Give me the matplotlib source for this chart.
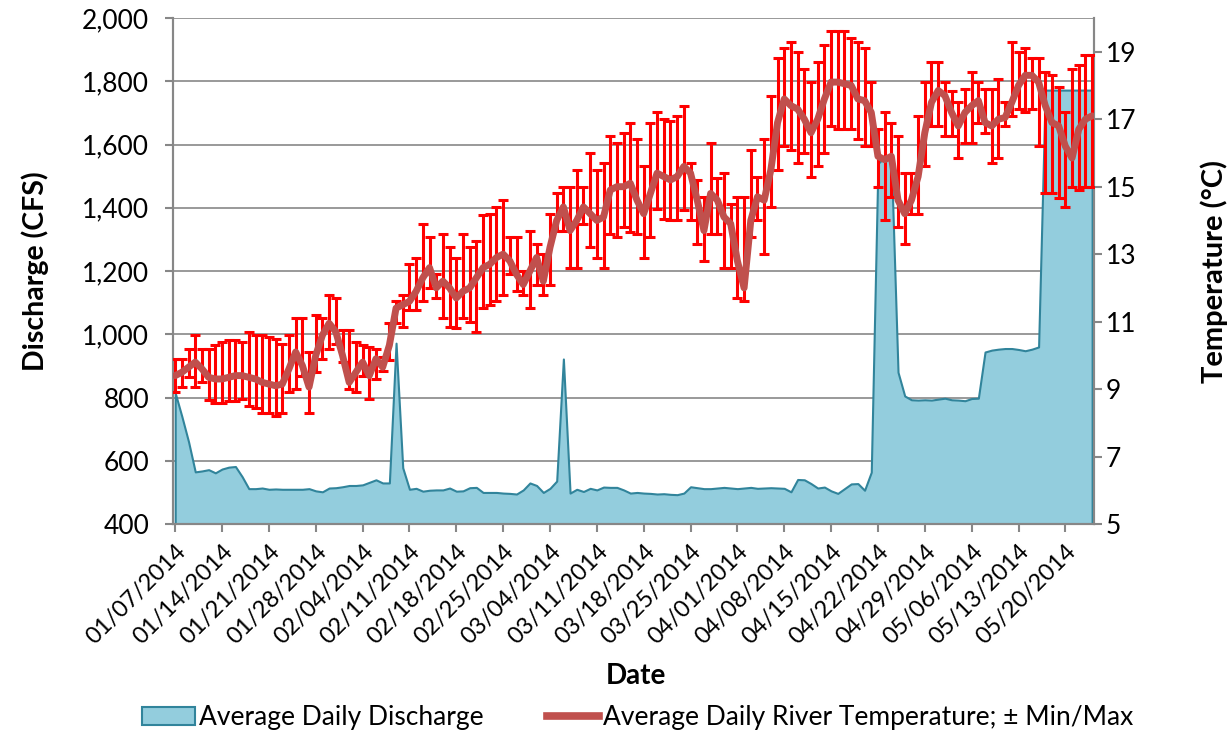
import matplotlib
matplotlib.use("Agg")
from matplotlib import pyplot as plt
from matplotlib.patches import Patch
from matplotlib.lines import Line2D
import matplotlib.dates as mdates
import pandas as pd

plt.rcParams['font.family'] = ['Lato', 'DejaVu Sans']

# daily dates, 01/07/2014 .. 05/24/2014
dates = pd.date_range('2014-01-07', '2014-05-24', freq='D')

# average daily discharge (CFS)
discharge = [
    815, 740, 660, 565, 568, 572, 562, 574, 580, 582,
    550, 512, 512, 514, 510, 511, 510, 510, 510, 510,
    512, 505, 502, 514, 515, 518, 522, 522, 524, 532,
    540, 530, 530, 972, 578, 510, 513, 504, 507, 508,
    508, 514, 504, 505, 515, 516, 500, 500, 500, 498,
    497, 495, 508, 530, 522, 500, 513, 536, 922, 498,
    510, 503, 513, 508, 517, 516, 516, 508, 498, 500,
    498, 497, 495, 496, 494, 493, 498, 518, 515, 512,
    512, 514, 516, 514, 512, 514, 516, 513, 514, 515,
    514, 513, 502, 541, 540, 528, 514, 517, 505, 497,
    512, 527, 528, 507, 564, 1540, 1560, 1550, 880, 805,
    793, 792, 793, 792, 795, 798, 793, 792, 790, 797,
    798, 944, 950, 953, 955, 955, 952, 948, 953, 960,
    1772, 1772, 1772, 1772, 1772, 1772, 1772, 1772,
]

# average daily river temperature (C)
temp_mean = [
    9.4, 9.5, 9.65, 9.8, 9.6, 9.35, 9.3, 9.3, 9.35, 9.4,
    9.4, 9.35, 9.3, 9.2, 9.15, 9.1, 9.15, 9.6, 10.1, 9.7,
    9.06, 10.0, 10.6, 10.95, 10.7, 10.0, 9.2, 9.5, 9.8, 9.4,
    9.9, 9.65, 10.3, 11.4, 11.5, 11.6, 11.9, 12.3, 12.6, 12.0,
    12.2, 12.0, 11.7, 11.9, 12.0, 12.3, 12.6, 12.7, 12.9, 13.0,
    12.8, 12.4, 12.1, 12.5, 12.9, 12.2, 13.2, 14.0, 14.4, 13.7,
    14.0, 14.4, 14.2, 14.0, 14.1, 14.9, 15.0, 15.0, 15.1, 14.6,
    14.2, 14.8, 15.4, 15.3, 15.2, 15.3, 15.6, 15.4, 14.6, 13.7,
    14.8, 14.6, 14.1, 13.9, 12.8, 12.0, 14.0, 14.7, 14.6, 15.5,
    16.9, 17.6, 17.4, 17.3, 17.0, 16.6, 17.0, 17.6, 18.1, 18.1,
    18.05, 18.0, 17.6, 17.55, 17.2, 15.9, 15.8, 15.9, 14.6, 14.2,
    14.6, 15.3, 16.6, 17.5, 17.85, 17.7, 17.2, 16.8, 17.2, 17.4,
    17.55, 16.9, 16.8, 17.0, 17.05, 17.5, 18.0, 18.3, 18.3, 18.1,
    17.4, 16.9, 16.8, 16.2, 15.85, 16.7, 17.0, 17.1,
]

temp_max = [
    9.9, 9.9, 10.2, 10.6, 10.2, 10.2, 10.3, 10.4, 10.45, 10.45,
    10.4, 10.7, 10.6, 10.6, 10.55, 10.5, 10.35, 10.6, 11.1, 11.1,
    10.1, 11.2, 11.1, 11.8, 11.7, 10.75, 10.75, 10.4, 10.3, 10.25,
    10.2, 9.95, 10.95, 11.6, 11.8, 12.7, 12.9, 13.9, 13.5, 12.4,
    13.6, 13.2, 12.9, 13.6, 13.2, 13.4, 14.15, 14.2, 14.4, 14.6,
    13.5, 13.5, 12.5, 13.7, 13.3, 13.0, 14.2, 14.8, 15.0, 15.0,
    15.5, 15.0, 16.0, 15.5, 15.7, 16.5, 16.3, 16.6, 16.9, 16.4,
    15.6, 16.9, 17.2, 17.0, 16.95, 17.1, 17.4, 15.7, 15.2, 14.7,
    16.3, 15.25, 15.4, 14.5, 14.7, 14.7, 16.1, 15.3, 16.4, 17.7,
    18.8, 19.1, 19.3, 19.0, 18.5, 18.1, 18.7, 19.2, 19.6, 19.6,
    19.6, 19.4, 19.3, 19.1, 18.1, 16.7, 17.2, 16.9, 16.5, 15.4,
    15.4, 17.1, 18.1, 18.7, 18.7, 18.1, 17.85, 17.5, 17.9, 18.4,
    18.1, 17.9, 17.9, 18.2, 17.5, 19.3, 19.0, 19.1, 18.8, 18.8,
    18.4, 18.3, 17.95, 17.2, 18.5, 18.6, 18.9, 18.9,
]

temp_min = [
    8.9, 9.06, 9.35, 9.06, 9.2, 8.67, 8.6, 8.6, 8.65, 8.65,
    8.7, 8.5, 8.45, 8.3, 8.3, 8.2, 8.3, 8.9, 9.0, 9.4,
    8.3, 9.5, 9.9, 10.2, 10.35, 9.8, 9.0, 8.9, 9.4, 8.7,
    9.3, 9.55, 9.85, 10.95, 10.85, 11.35, 11.35, 11.6, 12.0, 11.7,
    11.1, 10.85, 10.8, 11.1, 11.0, 10.7, 11.4, 11.5, 11.6, 11.8,
    12.4, 11.9, 11.8, 11.4, 12.1, 11.8, 12.1, 13.7, 13.7, 12.6,
    12.6, 13.9, 13.2, 12.9, 12.6, 13.6, 13.5, 13.8, 13.65, 13.6,
    12.9, 13.5, 14.35, 14.05, 14.0, 14.0, 14.3, 14.0, 13.3, 12.8,
    13.6, 13.6, 12.6, 12.6, 11.7, 11.6, 13.5, 14.0, 13.0, 14.4,
    15.5, 16.2, 16.1, 15.7, 16.0, 15.3, 15.6, 16.0, 16.8, 16.7,
    16.7, 16.7, 16.4, 16.2, 16.2, 15.0, 14.0, 14.7, 13.8, 13.3,
    14.2, 14.2, 15.6, 16.8, 16.8, 16.5, 16.5, 15.85, 16.3, 16.3,
    16.9, 16.6, 15.7, 15.85, 16.8, 17.1, 17.3, 17.2, 17.3, 16.2,
    14.8, 14.8, 14.65, 14.4, 15.0, 14.9, 15.0, 15.0,
]

# weekly tick dates
tick_dates = pd.date_range('2014-01-07', '2014-05-20', freq='7D')

fill_color = '#93CDDD'
edge_color = '#31849B'
line_color = '#C0504D'
grid_color = '#878787'

fig = plt.figure(figsize=(12.31, 7.34), dpi=100)
ax = fig.add_axes([0.1405, 0.286, 0.7485, 0.6895])
ax2 = ax.twinx()

# discharge area
ax.fill_between(dates, 400, discharge, facecolor=fill_color, edgecolor=edge_color,
                linewidth=1.5, zorder=2)
ax.set_ylim(400, 2000)
ax.set_yticks(range(400, 2001, 200))
ax.yaxis.set_major_formatter(matplotlib.ticker.FuncFormatter(lambda v, p: '{:,.0f}'.format(v)))
ax.grid(axis='y', color=grid_color, linewidth=1.2, zorder=0)
ax.set_axisbelow(True)

# temperature with min/max bars
lower = [m - lo for m, lo in zip(temp_mean, temp_min)]
upper = [hi - m for m, hi in zip(temp_mean, temp_max)]
ax2.errorbar(dates, temp_mean, yerr=[lower, upper], fmt='none', ecolor='#FF0000',
             elinewidth=2.2, capsize=3.4, capthick=2.2, zorder=3)
ax2.plot(dates, temp_mean, color=line_color, linewidth=5, solid_capstyle='round',
         solid_joinstyle='round', zorder=4)
ax2.set_ylim(5, 20)
ax2.set_yticks(range(5, 20, 2))

ax.set_xlim(dates[0] - pd.Timedelta(hours=8), dates[-1] + pd.Timedelta(hours=8))
ax.set_xticks(tick_dates)
ax.xaxis.set_major_formatter(mdates.DateFormatter('%m/%d/%Y'))

for a in (ax, ax2):
    for s in a.spines.values():
        s.set_color(grid_color)
        s.set_linewidth(1.5)
    a.spines['top'].set_visible(False)
    a.tick_params(colors=grid_color, labelcolor='black', labelsize=19, width=1.5, length=6)
ax.tick_params(axis='x', labelsize=17, pad=6)
ax.tick_params(axis='y', pad=11)
ax2.tick_params(axis='y', pad=2)
for lbl in ax.get_xticklabels():
    lbl.set_rotation(45)
    lbl.set_ha('right')
    lbl.set_rotation_mode('anchor')

ax.set_ylabel('Discharge (CFS)', fontsize=20.5, fontweight='bold', labelpad=24)
ax2.set_ylabel('Temperature (°C)', fontsize=21, fontweight='bold', labelpad=46)
ax.set_xlabel('Date', fontsize=20, fontweight='bold')
ax.xaxis.set_label_coords(0.502, -0.275)

handles = [Patch(facecolor=fill_color, edgecolor=edge_color, linewidth=1.5),
           Line2D([0], [0], color=line_color, linewidth=5.5)]
fig.legend(handles, ['Average Daily Discharge', 'Average Daily River Temperature; ± Min/Max'],
           loc='lower center', bbox_to_anchor=(0.518, -0.027), ncol=2, frameon=False,
           fontsize=19, handlelength=2.0, handletextpad=0.15, columnspacing=2.4)

fig.savefig('out.png', dpi=100)
